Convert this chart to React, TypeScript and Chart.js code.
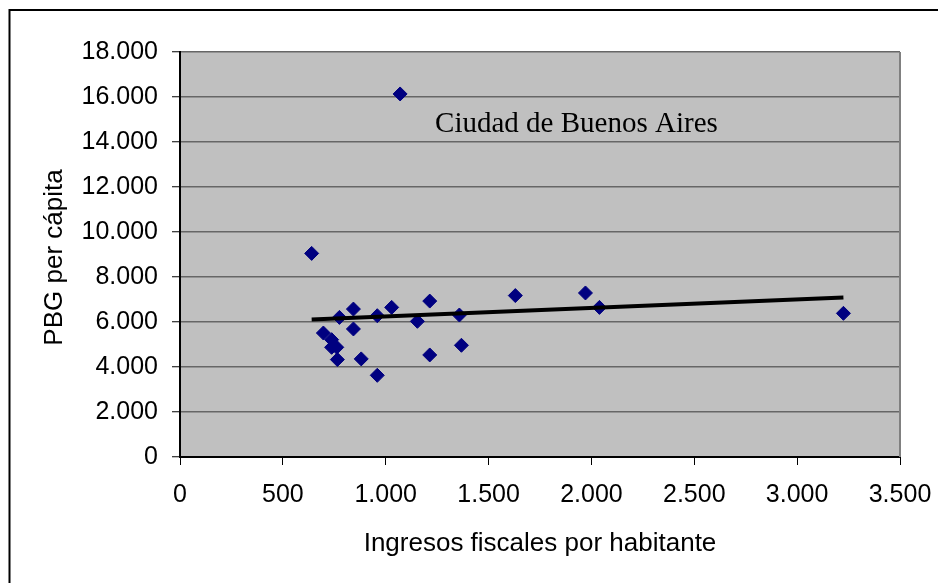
import React, { useEffect, useRef } from "react";
import { Chart, registerables } from "chart.js";

Chart.register(...registerables);

const ingresos = [640, 697, 737, 737, 762, 765, 775, 843, 843, 881, 959, 959, 1029, 1070, 1154, 1214, 1214, 1358, 1368, 1630, 1971, 2039, 3225];
const pbg = [9050, 5510, 5215, 4875, 4875, 4330, 6205, 6575, 5690, 4360, 3630, 6280, 6650, 16135, 6030, 6930, 4535, 6310, 4965, 7175, 7290, 6650, 6385];
const trendX = [640, 3225];
const trendY = [6110, 7090];
const xTickLabels = ["0", "500", "1.000", "1.500", "2.000", "2.500", "3.000", "3.500"];
const yTickLabels = ["0", "2.000", "4.000", "6.000", "8.000", "10.000", "12.000", "14.000", "16.000", "18.000"];
const annotationText = "Ciudad de Buenos Aires";
const annotationX = [1240];
const annotationY = [14460];
const xTitle = "Ingresos fiscales por habitante";
const yTitle = "PBG per cápita";

const SANS = "'Liberation Sans', Arial, sans-serif";

const decorPlugin = {
  id: "decor",
  beforeDraw(chart: any) {
    const { ctx, chartArea: a, width, height } = chart;
    ctx.save();
    ctx.fillStyle = "#ffffff";
    ctx.fillRect(0, 0, width, height);
    ctx.fillStyle = "#c0c0c0";
    ctx.fillRect(a.left, a.top, a.right - a.left, a.bottom - a.top);
    ctx.strokeStyle = "#000000";
    ctx.lineWidth = 2;
    ctx.beginPath();
    ctx.moveTo(9.5, height + 2);
    ctx.lineTo(9.5, 10);
    ctx.lineTo(width + 2, 10);
    ctx.stroke();
    ctx.restore();
  },
  afterDraw(chart: any) {
    const { ctx, chartArea: a, scales } = chart;
    ctx.save();
    ctx.strokeStyle = "#808080";
    ctx.lineWidth = 2;
    ctx.beginPath();
    ctx.moveTo(a.right, a.top);
    ctx.lineTo(a.right, a.bottom);
    ctx.stroke();
    ctx.fillStyle = "#000000";
    ctx.font = `26px ${SANS}`;
    ctx.textAlign = "center";
    ctx.textBaseline = "alphabetic";
    ctx.fillText(xTitle, (a.left + a.right) / 2, 551);
    ctx.translate(62, (a.top + a.bottom) / 2 + 3);
    ctx.rotate(-Math.PI / 2);
    ctx.fillText(yTitle, 0, 0);
    ctx.restore();
    ctx.save();
    ctx.fillStyle = "#000000";
    ctx.font = "29px 'Liberation Serif', 'Times New Roman', serif";
    ctx.textAlign = "left";
    ctx.textBaseline = "alphabetic";
    ctx.fillText(annotationText, scales.x.getPixelForValue(annotationX[0]), scales.y.getPixelForValue(annotationY[0]));
    ctx.restore();
  },
};

export default function App() {
  const ref = useRef<HTMLCanvasElement | null>(null);
  useEffect(() => {
    document.body.style.margin = "0";
    const canvas = ref.current!;
    const chart = new Chart(canvas, {
      type: "scatter",
      data: {
        datasets: [
          {
            label: "PBG",
            data: ingresos.map((x, i) => ({ x, y: pbg[i] })),
            pointStyle: "rectRot",
            pointRadius: 7,
            pointBorderWidth: 1,
            backgroundColor: "#000080",
            borderColor: "#000080",
            showLine: false,
            order: 2,
          },
          {
            label: "Tendencia",
            type: "line",
            data: trendX.map((x, i) => ({ x, y: trendY[i] })),
            borderColor: "#000000",
            borderWidth: 4,
            pointRadius: 0,
            showLine: true,
            fill: false,
            order: 1,
          } as any,
        ],
      },
      options: {
        responsive: false,
        animation: false,
        devicePixelRatio: 1,
        layout: { padding: { top: 52, right: 38, left: 0, bottom: 0 } },
        plugins: { legend: { display: false }, tooltip: { enabled: false }, title: { display: false } },
        scales: {
          x: {
            type: "linear",
            min: 0,
            max: 3500,
            afterFit: (s: any) => { s.height = 126; s.paddingLeft = 0; s.paddingRight = 0; },
            ticks: {
              stepSize: 500,
              color: "#000000",
              font: { family: SANS, size: 25 },
              padding: 15,
              maxRotation: 0,
              callback: (_v: any, i: number) => xTickLabels[i],
            },
            grid: { drawOnChartArea: false, drawTicks: true, tickLength: 8, tickColor: "#000000", tickWidth: 1 },
            border: { color: "#000000", width: 2 },
          },
          y: {
            type: "linear",
            min: 0,
            max: 18000,
            afterFit: (s: any) => { s.width = 180; s.paddingTop = 0; s.paddingBottom = 0; },
            ticks: {
              stepSize: 2000,
              color: "#000000",
              font: { family: SANS, size: 25 },
              padding: 14,
              callback: (_v: any, i: number) => yTickLabels[i],
            },
            grid: { color: "#666666", lineWidth: 1.5, drawTicks: true, tickLength: 8, tickColor: "#000000", tickWidth: 1 },
            border: { color: "#000000", width: 2 },
          },
        },
      },
      plugins: [decorPlugin],
    });
    return () => chart.destroy();
  }, []);
  return (
    <div style={{ position: "absolute", left: 0, top: 0, width: 938, height: 583 }}>
      <canvas ref={ref} width={938} height={583} style={{ display: "block" }} />
    </div>
  );
}
